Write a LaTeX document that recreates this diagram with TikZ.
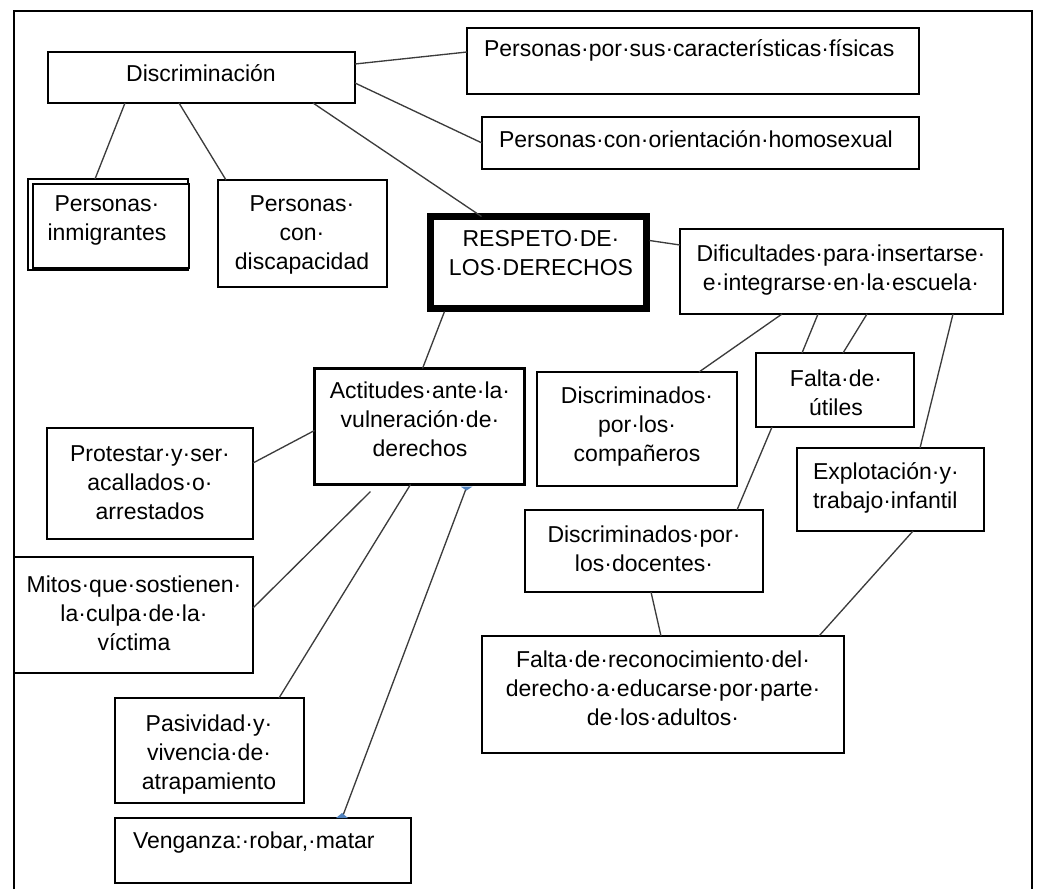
\documentclass[tikz,border=0pt]{standalone}
\usepackage{fontspec}
\setmainfont{Liberation Sans}
\usetikzlibrary{calc}
\definecolor{linkgray}{RGB}{60,60,60}
\definecolor{tipblue}{RGB}{79,129,189}

\begin{document}
\begin{tikzpicture}[x=0.75pt, y=-0.75pt,
  bx/.style 2 args={draw=black, line width=1.1pt, fill=white, inner sep=0pt,
    outer sep=0pt, anchor=north west,
    minimum width=#1*0.75pt, minimum height=#2*0.75pt},
  heavy/.style={line width=#1*0.75pt},
  txt/.style={inner sep=0pt, outer sep=0pt, align=center, anchor=north,
    font=\fontsize{17.25}{21.75}\selectfont, execute at begin node=\strut},
  ltxt/.style={txt, align=left, anchor=north west},
  ml/.style={yshift=-3.75pt},
  link/.style={draw=linkgray, line width=1pt},
  frame/.style={draw=black, line width=1.8pt}]

\useasboundingbox (0,0) rectangle (1037,889);

% page frame, open at the bottom
\draw[frame] (14,889) -- (14,11) -- (1032,11) -- (1032,889);

% ---------- boxes ----------
\node[bx={307}{51}]  (disc)   at (48,52)  {};
\node[bx={452}{66}]  (fis)    at (467,28) {};
\node[bx={437}{52}]  (homo)   at (482,117) {};
\node[bx={160}{91}]  (inmigB) at (28,179) {};
\node[bx={156}{84}]  (inmig)  at (33,184) {};
\node[bx={169}{107}] (disca)  at (218,180) {};
\node[bx={216}{92}, heavy=6.5] (resp) at (430.5,216.5) {};
\node[bx={323}{85}]  (dific)  at (680,229) {};
\node[bx={210}{116}, heavy=3] (actit) at (314.5,368.5) {};
\node[bx={200}{114}] (comp)   at (537,372) {};
\node[bx={158}{74}]  (utiles) at (756,353) {};
\node[bx={187}{83}]  (explot) at (797,448) {};
\node[bx={238}{82}]  (doc)    at (525,510) {};
\node[bx={362}{117}] (recon)  at (482,636) {};
\node[bx={206}{111}] (prot)   at (47,428) {};
\node[bx={239}{116}] (mitos)  at (14,557) {};
\node[bx={189}{105}] (pasiv)  at (115,698) {};
\node[bx={296}{65}]  (veng)   at (115,818) {};

% ---------- texts ----------
\node[txt]  (disc-t)   at (201,61)  {Discriminación};
\node[ltxt] (fis-t)    at (484,36)  {Personas·por·sus·características·físicas};
\node[ltxt] (homo-t)   at (499,127) {Personas·con·orientación·homosexual};
\node[txt,ml]  (inmig-t)  at (107,191) {Personas·\\inmigrantes};
\node[txt,ml]  (disca-t)  at (302,191) {Personas·\\con·\\discapacidad};
\node[txt,ml]  (resp-t)   at (541,225) {RESPETO·DE·\\LOS·DERECHOS};
\node[txt,ml]  (dific-t)  at (841,240) {Dificultades·para·insertarse·\\e·integrarse·en·la·escuela·};
\node[txt,ml]  (actit-t)  at (420,377) {Actitudes·ante·la·\\vulneración·de·\\derechos};
\node[txt,ml]  (comp-t)   at (637,382) {Discriminados·\\por·los·\\compañeros};
\node[txt,ml]  (utiles-t) at (836,365) {Falta·de·\\útiles};
\node[ltxt,ml] (explot-t) at (813,458) {Explotación·y·\\trabajo·infantil};
\node[txt,ml]  (doc-t)    at (644,521) {Discriminados·por·\\los·docentes·};
\node[txt,ml]  (recon-t)  at (663,646) {Falta·de·reconocimiento·del·\\derecho·a·educarse·por·parte·\\de·los·adultos·};
\node[txt,ml]  (prot-t)   at (150,441) {Protestar·y·ser·\\acallados·o·\\arrestados};
\node[txt,ml]  (mitos-t)  at (134,571) {Mitos·que·sostienen·\\la·culpa·de·la·\\víctima};
\node[txt,ml]  (pasiv-t)  at (209,710) {Pasividad·y·\\vivencia·de·\\atrapamiento};
\node[ltxt] (veng-t)   at (133,828) {Venganza:·robar,·matar};

% ---------- connectors: Discriminación ----------
\draw[link] ($(disc.north east)+(0,12)$) -- ($(fis.north west)+(0,24)$);
\draw[link] ($(disc.north east)+(0,31)$) -- ($(homo.north west)+(0,26)$);
\draw[link] ($(disc.south west)+(265,0)$) -- ($(resp.north west)+(51,0)$);
\draw[link] ($(disc.south west)+(77,0)$) -- ($(inmigB.north west)+(67,0)$);
\draw[link] ($(disc.south west)+(131,0)$) -- ($(disca.north west)+(8,0)$);

% ---------- connectors: respeto ----------
\draw[link] ($(resp.north east)+(3,24)$) -- ($(dific.north west)+(0,16)$);
\draw[link] ($(resp.south west)+(14,3)$) -- ($(actit.north west)+(108,0)$);

% ---------- connectors: actitudes ----------
\draw[link] ($(actit.north west)+(0,62)$) -- ($(prot.north east)+(0,35)$);
\draw[link] ($(actit.south west)+(56,7)$) -- ($(mitos.north east)+(0,51)$);
\draw[link] ($(actit.south west)+(96,0)$) -- ($(pasiv.north west)+(164,0)$);
\coordinate (vtop) at ($(veng.north west)+(227,0)$);
\coordinate (vend) at ($(actit.south west)+(152,3)$);
\draw[link] (vtop) -- (vend);
\fill[tipblue] ($(vtop)+(-6,0)$) -- ($(vtop)+(6,0)$) -- ($(vtop)+(0,-5)$) -- cycle;
\fill[tipblue] ($(vend)+(-6,-1)$) -- ($(vend)+(6,-1)$) -- ($(vend)+(0,3)$) -- cycle;

% ---------- connectors: dificultades ----------
\draw[link] ($(dific.south west)+(102,0)$) -- ($(comp.north west)+(162,0)$);
\draw[link] ($(dific.south west)+(138,0)$) -- ($(utiles.north west)+(46,0)$);
\draw[link] ($(dific.south west)+(187,0)$) -- ($(utiles.north west)+(87,0)$);
\draw[link] ($(dific.south west)+(273,0)$) -- ($(explot.north west)+(123,0)$);
\draw[link] ($(utiles.south west)+(16,0)$) -- ($(doc.north west)+(212,0)$);
\draw[link] ($(doc.south west)+(126,0)$) -- ($(recon.north west)+(179,0)$);
\draw[link] ($(explot.south west)+(116,0)$) -- ($(recon.north west)+(337,0)$);

\end{tikzpicture}
\end{document}
